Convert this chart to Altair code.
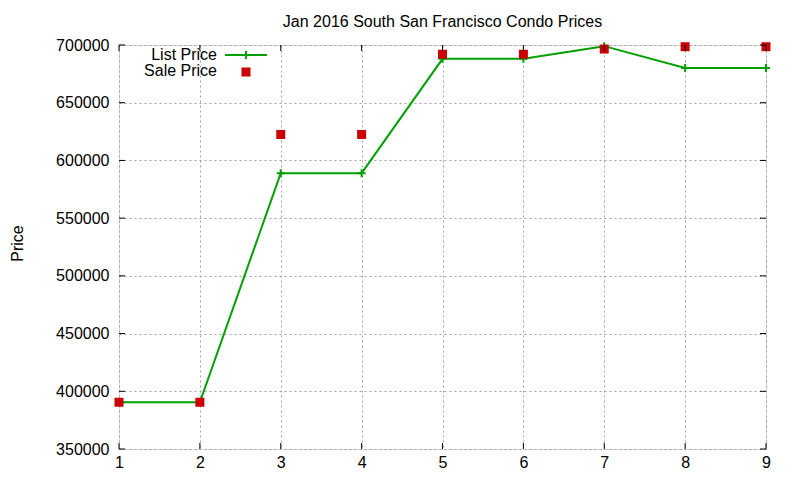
import altair as alt
import pandas as pd

units = [1, 2, 3, 4, 5, 6, 7, 8, 9]
list_price = [390500, 390500, 589000, 589000, 688000, 688000, 699000, 680000, 680000]
sale_price = [390500, 390500, 622500, 622500, 692000, 692000, 696500, 698500, 698500]
y_ticks = [350000, 400000, 450000, 500000, 550000, 600000, 650000, 700000]
x_ticks = units

FONT = "Liberation Sans"
GREEN = "#00a000"
RED = "#cc0000"

df = pd.DataFrame({"unit": units, "list": list_price, "sale": sale_price})
yt = pd.DataFrame({"v": y_ticks})
xt = pd.DataFrame({"v": x_ticks})

xs = alt.Scale(domain=[1, 9], nice=False, zero=False)
ys = alt.Scale(domain=[350000, 700000], nice=False, zero=False)

x_axis = alt.Axis(values=x_ticks, format="d", title=None, labelFontSize=16,
                  labelFont=FONT, labelColor="black", grid=True, gridDash=[2, 3],
                  gridColor="#a0a0a0", gridWidth=1, ticks=False, domain=False,
                  labelPadding=5, labelFlush=False, labelOverlap=False)
y_axis = alt.Axis(values=y_ticks, format="d", title="Price", labelFontSize=16,
                  labelFont=FONT, labelColor="black", grid=True, gridDash=[2, 3],
                  gridColor="#a0a0a0", gridWidth=1, ticks=False, domain=False,
                  labelPadding=10, labelFlush=False, labelOverlap=False,
                  titleFont=FONT, titleFontSize=16,
                  titleFontWeight="normal", titleColor="black", titleX=-97,
                  titleY=198, titleAngle=270, titleAlign="center",
                  titleBaseline="alphabetic")

base = alt.Chart(df)
line = base.mark_line(color=GREEN, strokeWidth=2).encode(
    x=alt.X("unit:Q", scale=xs, axis=x_axis),
    y=alt.Y("list:Q", scale=ys, axis=y_axis),
)
plus = base.mark_point(shape="M-1,0L1,0M0,-1L0,1", size=64, filled=False,
                       color=GREEN, strokeWidth=2, opacity=1).encode(
    x=alt.X("unit:Q", scale=xs), y=alt.Y("list:Q", scale=ys))
squares = base.mark_square(size=81, color=RED, opacity=1).encode(
    x=alt.X("unit:Q", scale=xs), y=alt.Y("sale:Q", scale=ys))

# inward ticks on all four sides
tick_l = alt.Chart(yt).mark_rule(color="black", strokeWidth=1).encode(
    y=alt.Y("v:Q", scale=ys), x=alt.value(0), x2=alt.value(6))
tick_r = alt.Chart(yt).mark_rule(color="black", strokeWidth=1).encode(
    y=alt.Y("v:Q", scale=ys), x=alt.value(641), x2=alt.value(647))
tick_b = alt.Chart(xt).mark_rule(color="black", strokeWidth=1).encode(
    x=alt.X("v:Q", scale=xs), y=alt.value(398), y2=alt.value(404))
tick_t = alt.Chart(xt).mark_rule(color="black", strokeWidth=1).encode(
    x=alt.X("v:Q", scale=xs), y=alt.value(0), y2=alt.value(6))

# legend
leg = pd.DataFrame({"label": ["List Price", "Sale Price"]})
leg_list = alt.Chart(leg).transform_filter(alt.datum.label == "List Price")
leg_sale = alt.Chart(leg).transform_filter(alt.datum.label == "Sale Price")
leg_t1 = leg_list.mark_text(align="right", baseline="middle", fontSize=16,
                            font=FONT, color="black").encode(
    text="label:N", x=alt.value(98), y=alt.value(10))
leg_t2 = leg_sale.mark_text(align="right", baseline="middle", fontSize=16,
                            font=FONT, color="black").encode(
    text="label:N", x=alt.value(98), y=alt.value(26))
leg_line = leg_list.mark_rule(color=GREEN, strokeWidth=2).encode(
    x=alt.value(106), x2=alt.value(148), y=alt.value(10))
leg_plus = leg_list.mark_point(shape="M-1,0L1,0M0,-1L0,1", size=64, filled=False,
                               color=GREEN, strokeWidth=2, opacity=1).encode(
    x=alt.value(127), y=alt.value(10))
leg_sq = leg_sale.mark_square(size=81, color=RED, opacity=1).encode(
    x=alt.value(127), y=alt.value(27))

chart = alt.layer(
    line, plus, squares, tick_l, tick_r, tick_b, tick_t,
    leg_t1, leg_t2, leg_line, leg_plus, leg_sq,
).properties(
    width=647, height=404,
    autosize=alt.AutoSizeParams(type="none"),
    padding={"left": 111, "top": 37, "right": 26, "bottom": 23},
    title=alt.TitleParams("Jan 2016 South San Francisco Condo Prices",
                          font=FONT, fontSize=16, fontWeight="normal",
                          color="black", anchor="middle", offset=7),
).configure_view(stroke="black", strokeWidth=1).configure(font=FONT, background="white")

chart.save("out.html", embed_options={"renderer": "svg", "actions": False})
